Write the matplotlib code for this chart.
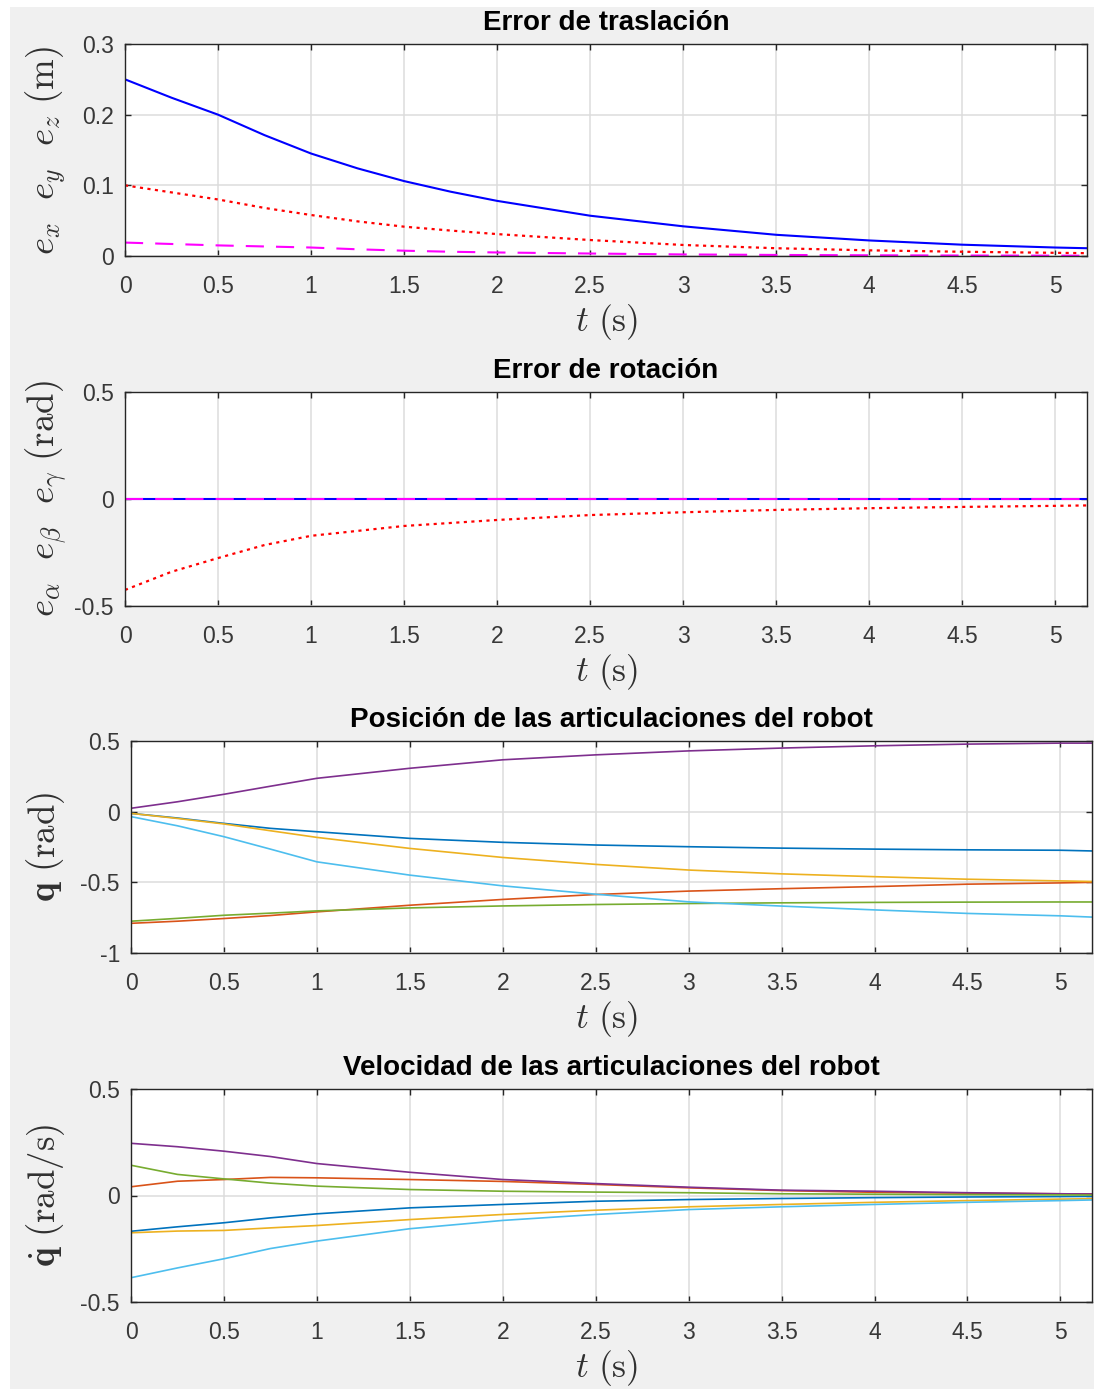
import matplotlib
matplotlib.use("Agg")
import matplotlib.pyplot as plt
from matplotlib.patches import Rectangle
from matplotlib.ticker import FuncFormatter, MultipleLocator

plt.rcParams["font.family"] = ["Liberation Sans", "DejaVu Sans"]
plt.rcParams["mathtext.fontset"] = "cm"

# ---------------- data ----------------
t_err = [0, 0.25, 0.5, 0.75, 1, 1.25, 1.5, 1.75, 2, 2.5, 3, 3.5, 4, 4.5, 5, 5.17]
e_x = [0.25, 0.224, 0.2, 0.171, 0.145, 0.124, 0.106, 0.091, 0.078, 0.057, 0.042, 0.030, 0.022, 0.016, 0.012, 0.011]
e_y = [0.1, 0.09, 0.08, 0.068, 0.058, 0.049, 0.0415, 0.036, 0.031, 0.0226, 0.0156, 0.011, 0.008, 0.006, 0.0045, 0.004]
e_z = [0.019, 0.017, 0.015, 0.0135, 0.012, 0.0095, 0.0075, 0.006, 0.005, 0.0035, 0.0022, 0.0015, 0.001, 0.0007, 0.0005, 0.0004]

t = [0, 0.25, 0.5, 0.75, 1, 1.5, 2, 2.5, 3, 3.5, 4, 4.5, 5, 5.17]
e_alpha = [0] * len(t)
e_beta = [-0.425, -0.34, -0.276, -0.215, -0.172, -0.126, -0.098, -0.075, -0.062, -0.051, -0.043, -0.037, -0.032, -0.03]
e_gamma = [0] * len(t)

q = [
    [-0.012, -0.045, -0.083, -0.118, -0.142, -0.189, -0.217, -0.236, -0.248, -0.258, -0.265, -0.27, -0.273, -0.278],
    [-0.79, -0.775, -0.756, -0.735, -0.709, -0.662, -0.621, -0.586, -0.562, -0.545, -0.53, -0.513, -0.504, -0.5],
    [-0.012, -0.048, -0.087, -0.135, -0.182, -0.26, -0.324, -0.373, -0.413, -0.44, -0.46, -0.478, -0.49, -0.494],
    [0.024, 0.07, 0.123, 0.18, 0.236, 0.307, 0.367, 0.402, 0.43, 0.45, 0.466, 0.478, 0.485, 0.485],
    [-0.775, -0.755, -0.733, -0.718, -0.702, -0.681, -0.667, -0.657, -0.65, -0.645, -0.642, -0.64, -0.639, -0.639],
    [-0.035, -0.1, -0.177, -0.265, -0.355, -0.449, -0.525, -0.584, -0.638, -0.668, -0.695, -0.72, -0.737, -0.746],
]
qd = [
    [-0.168, -0.147, -0.128, -0.105, -0.086, -0.058, -0.042, -0.027, -0.019, -0.014, -0.01, -0.007, -0.005, -0.004],
    [0.041, 0.067, 0.075, 0.085, 0.083, 0.075, 0.066, 0.052, 0.036, 0.023, 0.015, 0.011, 0.008, 0.007],
    [-0.175, -0.167, -0.164, -0.152, -0.141, -0.113, -0.089, -0.069, -0.053, -0.042, -0.032, -0.024, -0.017, -0.015],
    [0.245, 0.229, 0.208, 0.183, 0.150, 0.109, 0.075, 0.056, 0.039, 0.025, 0.02, 0.013, 0.008, 0.007],
    [0.142, 0.099, 0.078, 0.058, 0.044, 0.028, 0.02, 0.016, 0.013, 0.008, 0.006, 0.004, 0.003, 0.002],
    [-0.386, -0.34, -0.297, -0.249, -0.214, -0.156, -0.117, -0.089, -0.066, -0.053, -0.042, -0.032, -0.024, -0.021],
]
joint_colors = ["#0072BD", "#D95319", "#EDB120", "#7E2F8E", "#77AC30", "#4DBEEE"]

titles = ["Error de traslación", "Error de rotación",
          "Posición de las articulaciones del robot",
          "Velocidad de las articulaciones del robot"]
ylabels = [r"$e_x\ \ e_y\ \ e_z\ (\mathrm{m})$",
           r"$e_\alpha\ \ e_\beta\ \ e_\gamma\ (\mathrm{rad})$",
           r"$\mathbf{q}\ (\mathrm{rad})$",
           r"$\dot{\mathbf{q}}\ (\mathrm{rad/s})$"]
xlabel = r"$t\ (\mathrm{s})$"

# ---------------- figure ----------------
W, H = 1094, 1389
fig = plt.figure(figsize=(W / 100, H / 100), dpi=100, facecolor="white")
fig.patches.append(Rectangle((10 / W, 0), 1 - 10 / W, 1 - 7 / H,
                             transform=fig.transFigure, facecolor="#f0f0f0",
                             edgecolor="none", zorder=-10))

# axes boxes in pixels: left, top, right, bottom
boxes = [(125, 44, 1087, 256), (125, 392, 1087, 606),
         (131, 741, 1092, 953), (131, 1089, 1092, 1302)]
axes = []
for (l, tp, r, b) in boxes:
    ax = fig.add_axes([l / W, (H - b) / H, (r - l) / W, (b - tp) / H])
    axes.append(ax)

fmt = FuncFormatter(lambda v, p: "%g" % round(v, 6))
edge = "#262626"
for ax, ttl, yl in zip(axes, titles, ylabels):
    ax.set_facecolor("white")
    ax.set_xlim(0, 5.17)
    ax.xaxis.set_major_locator(MultipleLocator(0.5))
    ax.xaxis.set_major_formatter(fmt)
    ax.yaxis.set_major_formatter(fmt)
    ax.grid(True, color="#dcdcdc", linewidth=1.1)
    ax.set_axisbelow(True)
    for s in ax.spines.values():
        s.set_color(edge)
        s.set_linewidth(1.0)
    ax.tick_params(direction="in", length=4.5, width=1.0, color=edge,
                   top=True, right=True, labelsize=16.5, labelcolor="#383838")
    ax.tick_params(axis="x", pad=14)
    ax.tick_params(axis="y", pad=8)
    ax.set_title(ttl, fontsize=20, fontweight="bold", pad=10, color="black")
    ax.set_ylabel(yl, fontsize=26.5, color="#303030", va="center")
    ax.set_xlabel(xlabel, fontsize=25.5, color="#303030", va="center")

# label placement
for ax, (l, tp, r, b) in zip(axes, boxes):
    w = r - l
    h = b - tp
    ax.yaxis.set_label_coords((46 - l) / w, 0.5)
    ax.xaxis.set_label_coords((607 - l) / w, -66 / h)

# panel 1: translation error
ax = axes[0]
ax.plot(t_err, e_x, color="#0000ff", lw=1.5)
ax.plot(t_err, e_y, color="#ff0000", lw=1.6, linestyle=(0, (1.4, 2.0)))
ax.plot(t_err, e_z, color="#ff00ff", lw=1.5, linestyle=(0, (8.7, 5.8)))
ax.set_ylim(0, 0.3)
ax.yaxis.set_major_locator(MultipleLocator(0.1))

# panel 2: rotation error
ax = axes[1]
ax.plot(t, e_alpha, color="#0000ff", lw=1.5)
ax.plot(t, e_beta, color="#ff0000", lw=1.6, linestyle=(0, (1.4, 2.0)))
ax.plot(t, e_gamma, color="#ff00ff", lw=1.5, linestyle=(0, (8.7, 5.8)))
ax.set_ylim(-0.5, 0.5)
ax.yaxis.set_major_locator(MultipleLocator(0.5))

# panel 3: joint positions
ax = axes[2]
for vals, c in zip(q, joint_colors):
    ax.plot(t, vals, color=c, lw=1.2)
ax.set_ylim(-1, 0.5)
ax.yaxis.set_major_locator(MultipleLocator(0.5))

# panel 4: joint velocities
ax = axes[3]
for vals, c in zip(qd, joint_colors):
    ax.plot(t, vals, color=c, lw=1.2)
ax.set_ylim(-0.5, 0.5)
ax.yaxis.set_major_locator(MultipleLocator(0.5))

fig.savefig("out.png", dpi=100, facecolor=fig.get_facecolor())
